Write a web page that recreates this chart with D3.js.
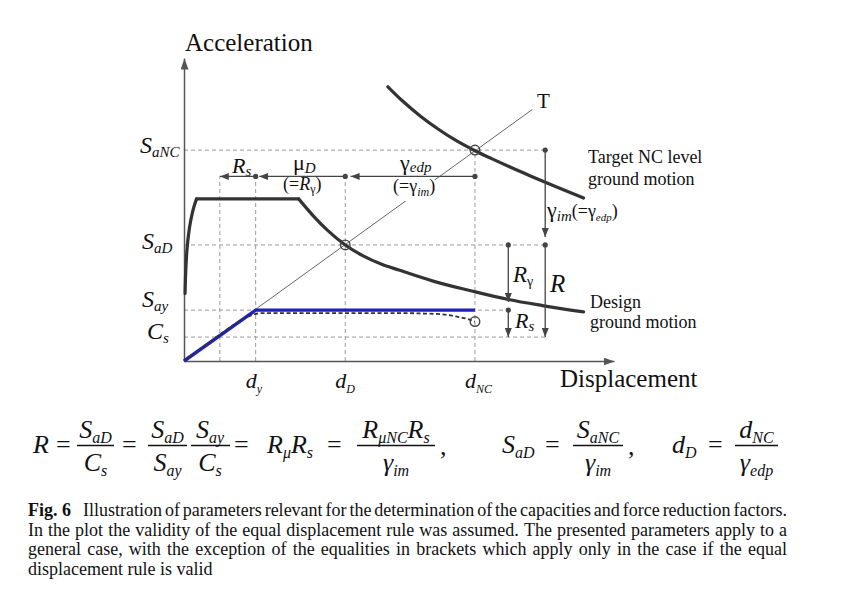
<!DOCTYPE html>
<html><head><meta charset="utf-8">
<script src="https://cdn.jsdelivr.net/npm/d3@7/dist/d3.min.js"></script>
<style>html,body{margin:0;padding:0;background:#fff;}svg{display:block;}</style>
</head><body>
<svg id="chart" width="864" height="590"></svg>
<script>
// ---------------- data ----------------
const xTickVals = [2.0, 4.5, 8.12];
const xTickLabels = [["d","y"],["d","D"],["d","NC"]];
const yTickVals = [0.696, 0.383, 0.168, 0.079];
const yTickLabels = [["S","aNC"],["S","aD"],["S","ay"],["C","s"]];

const designRise = [[0.03,0.223],[0.05,0.30],[0.09,0.377],[0.19,0.465],[0.28,0.51],[0.35,0.535]];
const designPlateau = [[0.35,0.535],[3.2,0.535]];
const designFall = [[3.2,0.535],[3.6,0.48],[4.0,0.432],[4.5,0.383],[5.0,0.347],[5.5,0.32],[6.0,0.30],[7.0,0.262],[8.0,0.232],[9.05,0.203],[10.0,0.183],[11.15,0.162]];
const targetNC = [[5.69,0.905],[6.1,0.858],[6.6,0.808],[7.1,0.765],[7.6,0.727],[8.12,0.694],[8.6,0.667],[9.1,0.64],[9.7,0.609],[10.4,0.574],[11.15,0.538]];
const capacityBilinear = [[0,0],[2.0,0.168],[8.12,0.168]];
const capacityActual = [[0,0],[0.6,0.052],[1.2,0.104],[1.6,0.135],[1.9,0.152],[2.2,0.158],[4.0,0.158],[6.0,0.158],[6.6,0.157],[7.2,0.154],[7.6,0.147],[7.9,0.139],[8.12,0.13]];
const tLine = [[0,0],[9.72,0.83]];
const openCircles = [[4.5,0.383],[8.12,0.696],[8.12,0.13]];
const hGrid = [[0.696,0,10.08],[0.383,0,10.08],[0.168,0,9.05],[0.079,0,10.08]];
const vGrid = [[1.0,0,0.609],[2.0,0,0.609],[4.5,0,0.609],[8.12,0,0.696]];
const arrowRow = 0.609;
const hArrows = [[2.0,1.0],[4.5,2.1],[8.12,4.65]];
const vArrows = [[10.08,0.696,0.409],[10.08,0.383,0.079],[9.05,0.383,0.195],[9.05,0.168,0.079]];

const captionLines = [
  "Illustration of parameters relevant for the determination of the capacities and force reduction factors.",
  "In the plot the validity of the equal displacement rule was assumed. The presented parameters apply to a",
  "general case, with the exception of the equalities in brackets which apply only in the case if the equal",
  "displacement rule is valid"
];

// ---------------- drawing ----------------
const SERIF = "'Liberation Serif','Times New Roman',serif";
const svg = d3.select("#chart");
const xSc = d3.scaleLinear().domain([0,12]).range([184,614]);
const ySc = d3.scaleLinear().domain([0,1]).range([361,58]);

const defs = svg.append("defs");
function marker(id, w, h, color){
  defs.append("marker").attr("id",id).attr("markerUnits","userSpaceOnUse")
    .attr("markerWidth",w).attr("markerHeight",h).attr("refX",w).attr("refY",h/2)
    .attr("orient","auto").attr("viewBox",`0 0 ${w} ${h}`)
    .append("path").attr("d",`M0,0L${w},${h/2}L0,${h}Z`).attr("fill",color);
}
marker("axArr",11,8,"#555");
marker("arr",9,7,"#444");

const g = svg.append("g");

// grid (dashed)
const gridC = "#9a9a9a";
g.selectAll(".hg").data(hGrid).join("line")
  .attr("x1",d=>xSc(d[1])).attr("x2",d=>xSc(d[2])).attr("y1",d=>ySc(d[0])).attr("y2",d=>ySc(d[0]))
  .attr("stroke",gridC).attr("stroke-width",1).attr("stroke-dasharray","4,3");
g.selectAll(".vg").data(vGrid).join("line")
  .attr("x1",d=>xSc(d[0])).attr("x2",d=>xSc(d[0])).attr("y1",d=>ySc(d[1])).attr("y2",d=>ySc(d[2]))
  .attr("stroke",gridC).attr("stroke-width",1).attr("stroke-dasharray","4,3");

// axes
const xAxis = d3.axisBottom(xSc).tickValues(xTickVals).tickSize(0).tickSizeOuter(0).tickFormat("");
const yAxis = d3.axisLeft(ySc).tickValues(yTickVals).tickSize(0).tickSizeOuter(0).tickFormat("");
const gx = g.append("g").attr("transform",`translate(0,${ySc(0)})`).call(xAxis);
const gy = g.append("g").attr("transform",`translate(${xSc(0)},0)`).call(yAxis);
[gx,gy].forEach(a=>{
  a.select(".domain").attr("stroke","#555").attr("stroke-width",1.5).attr("marker-end","url(#axArr)");
});

const line = d3.line().x(d=>xSc(d[0])).y(d=>ySc(d[1]));
// T line
g.append("path").attr("d",line(tLine)).attr("fill","none").attr("stroke","#666").attr("stroke-width",1);

// design + target spectra
const curveC = "#333";
[[designRise,d3.curveMonotoneY],[designPlateau,d3.curveLinear],[designFall,d3.curveMonotoneX],[targetNC,d3.curveMonotoneX]].forEach(([d,c])=>{
  g.append("path").attr("d",line.curve(c)(d)).attr("fill","none").attr("stroke",curveC)
    .attr("stroke-width",3.2).attr("stroke-linecap","round").attr("stroke-linejoin","round");
});
line.curve(d3.curveLinear);

// capacity curves
g.append("path").attr("d",line(capacityBilinear)).attr("fill","none").attr("stroke","#1f1fc0").attr("stroke-width",3.4);
g.append("path").attr("d",line.curve(d3.curveMonotoneX)(capacityActual)).attr("fill","none").attr("stroke","#333").attr("stroke-width",1.8).attr("stroke-dasharray","4,2.5");
line.curve(d3.curveLinear);

// open circles
g.selectAll(".oc").data(openCircles).join("circle")
  .attr("cx",d=>xSc(d[0])).attr("cy",d=>ySc(d[1])).attr("r",4.8)
  .attr("fill","none").attr("stroke","#444").attr("stroke-width",1.4);

// arrows
const arrC = "#444";
g.selectAll(".ha").data(hArrows).join("line")
  .attr("x1",d=>xSc(d[0])).attr("x2",d=>xSc(d[1])).attr("y1",ySc(arrowRow)).attr("y2",ySc(arrowRow))
  .attr("stroke",arrC).attr("stroke-width",1.3).attr("marker-end","url(#arr)");
g.selectAll(".hd").data(hArrows).join("circle")
  .attr("cx",d=>xSc(d[0])).attr("cy",ySc(arrowRow)).attr("r",2.6).attr("fill",arrC);
g.selectAll(".va").data(vArrows).join("line")
  .attr("x1",d=>xSc(d[0])).attr("x2",d=>xSc(d[0])).attr("y1",d=>ySc(d[1])).attr("y2",d=>ySc(d[2]))
  .attr("stroke",arrC).attr("stroke-width",1.3).attr("marker-end","url(#arr)");
g.selectAll(".vd").data(vArrows).join("circle")
  .attr("cx",d=>xSc(d[0])).attr("cy",d=>ySc(d[1])).attr("r",2.6).attr("fill",arrC);

// ---------------- text helpers ----------------
function rich(parent, x, y, parts, anchor){
  const t = parent.append("text").attr("x",x).attr("y",y).attr("text-anchor",anchor||"start")
    .attr("font-family",SERIF).attr("fill","#111");
  let cur = 0;
  parts.forEach(p=>{
    const off = p.dy||0;
    t.append("tspan").attr("dy",off-cur).attr("font-size",p.s)
      .attr("font-style",p.i?"italic":"normal").attr("font-weight",p.b?"bold":"normal").text(p.t);
    cur = off;
  });
  return t;
}
const I = (t,s,dy)=>({t,s,i:true,dy});
const N = (t,s,dy)=>({t,s,i:false,dy});

// axis titles
rich(g,185,51,[N("Acceleration",25)]);
rich(g,560,387,[N("Displacement",25)]);

// y tick labels
const yLabX = [140,142,142,147], yLabOff = [3,4,-3,2];
yTickVals.forEach((v,i)=>{
  rich(g,yLabX[i],ySc(v)+yLabOff[i],[I(yTickLabels[i][0],24),I(yTickLabels[i][1],15,4)]);
});
// x tick labels
xTickVals.forEach((v,i)=>{
  rich(g,xSc(v)-10,388,[I(xTickLabels[i][0],22),I(xTickLabels[i][1],12,5)]);
});

// inner labels
rich(g,232,173,[I("R",22),I("s",15,3)]);
rich(g,293,170,[N("μ",22),I("D",15,3)]);
rich(g,283,190,[N("(=",18),I("R",18),N("γ",12,3),N(")",18,0)]);
rich(g,400,170,[N("γ",22),I("edp",15,2)]);
const gl = rich(g,393,192,[N("(=",18),N("γ",18),I("im",12,4),N(")",18,0)]);
const bb = gl.node().getBBox();
g.insert("rect",()=>gl.node()).attr("x",bb.x-1).attr("y",Math.max(bb.y,180)).attr("width",bb.width+3)
  .attr("height",bb.y+bb.height-Math.max(bb.y,180)+2).attr("fill","#fff");

rich(g,537,108,[N("T",21)]);
rich(g,588,163,[N("Target NC level",18)]);
rich(g,588,185,[N("ground motion",18)]);
rich(g,547,217,[N("γ",22),I("im",15,4),N("(=",18,0),N("γ",18,0),I("edp",11,4),N(")",18,0)]);
rich(g,513,282,[I("R",23),N("γ",14,4)]);
rich(g,550,292,[I("R",25)]);
rich(g,515,328,[I("R",22),I("s",15,3)]);
rich(g,590,308,[N("Design",18)]);
rich(g,590,328,[N("ground motion",18)]);

// ---------------- equations ----------------
const M = 26, SB = 16, SD = 5, BASE = 453;
const eq = svg.append("g");
function frac(cx, num, den, x1, x2){
  rich(eq,cx,438,num,"middle");
  rich(eq,cx,471,den,"middle");
  eq.append("line").attr("x1",x1).attr("x2",x2).attr("y1",445.5).attr("y2",445.5)
    .attr("stroke","#111").attr("stroke-width",1.3);
}
const Sa = sub => [I("S",M),I(sub,SB,SD)];
rich(eq,33,BASE,[I("R",M)]);
rich(eq,56,BASE,[N("=",M)]);
frac(95.5,Sa("aD"),[I("C",M),I("s",SB,SD)],77,114);
rich(eq,122,BASE,[N("=",M)]);
frac(167.5,Sa("aD"),Sa("ay"),148,187);
frac(210,Sa("ay"),[I("C",M),I("s",SB,SD)],191,230);
rich(eq,234,BASE,[N("=",M)]);
rich(eq,267,BASE,[I("R",M),I("μ",SB,SD),I("R",M,0),I("s",SB,SD)]);
rich(eq,327,BASE,[N("=",M)]);
frac(396,[I("R",M),I("μNC",SB,SD),I("R",M,0),I("s",SB,SD)],[I("γ",M),I("im",SB,SD)],357,435);
rich(eq,440,BASE+2,[N(",",M)]);
rich(eq,502,BASE,Sa("aD"));
rich(eq,545,BASE,[N("=",M)]);
frac(598,Sa("aNC"),[I("γ",M),I("im",SB,SD)],573,623);
rich(eq,628,BASE+2,[N(",",M)]);
rich(eq,672,BASE,[I("d",M),I("D",SB,SD)]);
rich(eq,708,BASE,[N("=",M)]);
frac(756.5,[I("d",M),I("NC",SB,SD)],[I("γ",M),I("edp",SB,SD)],735,778);

// ---------------- caption (justified) ----------------
const cap = svg.append("g");
const CF = 18, capX0 = 28, capX1 = 787, capY = [516,535.5,555,574.5];
function words(x, y, list, bold){
  return list.map(w=>{
    const t = cap.append("text").attr("x",x).attr("y",y).attr("font-family",SERIF).attr("font-size",CF)
      .attr("font-weight",bold?"bold":"normal").attr("fill","#111").text(w);
    return {t, w:t.node().getComputedTextLength()};
  });
}
function justify(x0, x1, y, text, just){
  const ws = words(x0,y,text.split(" "));
  const tot = ws.reduce((a,b)=>a+b.w,0);
  const gap = just ? (x1-x0-tot)/(ws.length-1) : CF*0.25;
  let x = x0;
  ws.forEach(o=>{o.t.attr("x",x); x += o.w + gap;});
}
const fig = words(capX0,capY[0],["Fig. 6"],true)[0];
justify(capX0+fig.w+12,capX1,capY[0],captionLines[0],true);
justify(capX0,capX1,capY[1],captionLines[1],true);
justify(capX0,capX1,capY[2],captionLines[2],true);
justify(capX0,capX1,capY[3],captionLines[3],false);
</script>
</body></html>
